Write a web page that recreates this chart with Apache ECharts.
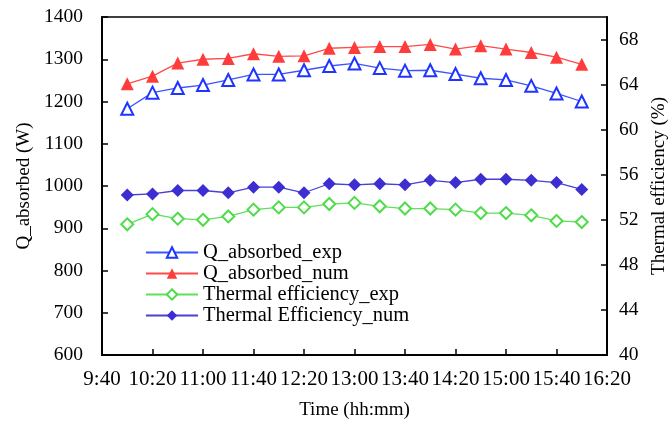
<!DOCTYPE html>
<html>
<head>
<meta charset="utf-8">
<script src="https://cdn.jsdelivr.net/npm/echarts@6/dist/echarts.min.js"></script>
<style>
  html, body { margin: 0; padding: 0; background: #fff; }
  #chart { width: 671px; height: 423px; }
</style>
</head>
<body>
<div id="chart"></div>
<script>
const times = ['10:00', '10:20', '10:40', '11:00', '11:20', '11:40', '12:00', '12:20', '12:40', '13:00',
  '13:20', '13:40', '14:00', '14:20', '14:40', '15:00', '15:20', '15:40', '16:00'];
const qExp = [1183, 1221, 1232, 1239, 1251, 1264, 1264, 1274, 1284, 1290,
  1279, 1273, 1274, 1265, 1255, 1251, 1237, 1219, 1200];
const qNum = [1242, 1260, 1291, 1300, 1302, 1313, 1307, 1308, 1326, 1328,
  1330, 1330, 1335, 1324, 1332, 1324, 1316, 1305, 1288];
const effExp = [51.6, 52.5, 52.1, 52.0, 52.3, 52.9, 53.1, 53.1, 53.4, 53.5,
  53.2, 53.0, 53.0, 52.9, 52.6, 52.6, 52.4, 51.9, 51.8];
const effNum = [54.2, 54.3, 54.6, 54.6, 54.4, 54.9, 54.9, 54.4, 55.2, 55.1,
  55.2, 55.1, 55.5, 55.3, 55.6, 55.6, 55.5, 55.3, 54.7];

const toMin = s => { const [h, m] = s.split(':').map(Number); return h * 60 + m; };
const fmtTime = v => Math.floor(v / 60) + ':' + String(v % 60).padStart(2, '0');
const pairs = arr => arr.map((v, i) => [toMin(times[i]), v]);

const font = '"Liberation Serif", "Times New Roman", serif';

const chart = echarts.init(document.getElementById('chart'));

const axisCommon = {
  axisLine: { show: true, lineStyle: { color: '#000', width: 2 } },
  axisTick: { show: true, inside: true, length: 6, lineStyle: { color: '#000', width: 1.5 } },
  axisLabel: { color: '#000', fontSize: 19.5, fontFamily: font },
  splitLine: { show: false },
  nameTextStyle: { color: '#000', fontSize: 19, fontFamily: font }
};

chart.setOption({
  animation: false,
  textStyle: { fontFamily: font },
  grid: {
    left: 102, right: 64, top: 17, bottom: 68,
    outerBoundsMode: 'none',
    containLabel: false,
    show: true, borderColor: '#000', borderWidth: 1.5
  },
  legend: {
    orient: 'vertical',
    left: 140,
    top: 237,
    itemWidth: 52,
    itemHeight: 13,
    itemGap: 0,
    textStyle: { color: '#000', fontSize: 20.5, lineHeight: 19, fontFamily: font },
    data: ['Q_absorbed_exp', 'Q_absorbed_num', 'Thermal efficiency_exp', 'Thermal Efficiency_num']
  },
  xAxis: {
    ...axisCommon,
    type: 'value',
    min: 580, max: 980, interval: 40,
    name: 'Time (hh:mm)',
    nameLocation: 'middle',
    nameGap: 46,
    axisLabel: { ...axisCommon.axisLabel, fontSize: 21, formatter: fmtTime, margin: 14 }
  },
  yAxis: [
    {
      ...axisCommon,
      type: 'value',
      min: 600, max: 1400, interval: 100,
      name: 'Q_absorbed (W)',
      nameLocation: 'middle',
      nameGap: 62,
      axisLabel: { ...axisCommon.axisLabel, margin: 19, formatter: v => String(v) }
    },
    {
      ...axisCommon,
      type: 'value',
      position: 'right',
      min: 40, max: 70, interval: 4,
      name: 'Thermal efficiency (%)',
      nameLocation: 'middle',
      nameGap: 40,
      nameRotate: 90,
      axisLabel: { ...axisCommon.axisLabel, margin: 12, showMaxLabel: false, formatter: v => String(v) }
    }
  ],
  series: [
    {
      name: 'Q_absorbed_exp', type: 'line', yAxisIndex: 0,
      data: pairs(qExp),
      symbol: 'triangle', symbolSize: 12,
      lineStyle: { color: '#3a55ff', width: 1.3 },
      itemStyle: { color: '#fff', borderColor: '#1f35ff', borderWidth: 2 }
    },
    {
      name: 'Q_absorbed_num', type: 'line', yAxisIndex: 0,
      data: pairs(qNum),
      symbol: 'triangle', symbolSize: 13,
      lineStyle: { color: '#ff4a4a', width: 1.3 },
      itemStyle: { color: '#ff3c3c', borderColor: '#ff3c3c', borderWidth: 0 }
    },
    {
      name: 'Thermal efficiency_exp', type: 'line', yAxisIndex: 1,
      data: pairs(effExp),
      symbol: 'diamond', symbolSize: 12,
      lineStyle: { color: '#5fe05a', width: 1.3 },
      itemStyle: { color: '#fff', borderColor: '#4fdc4a', borderWidth: 2 }
    },
    {
      name: 'Thermal Efficiency_num', type: 'line', yAxisIndex: 1,
      data: pairs(effNum),
      symbol: 'diamond', symbolSize: 13,
      lineStyle: { color: '#4a3fd6', width: 1.3 },
      itemStyle: { color: '#3d2ed2', borderColor: '#3d2ed2', borderWidth: 0 }
    }
  ]
});
</script>
</body>
</html>
